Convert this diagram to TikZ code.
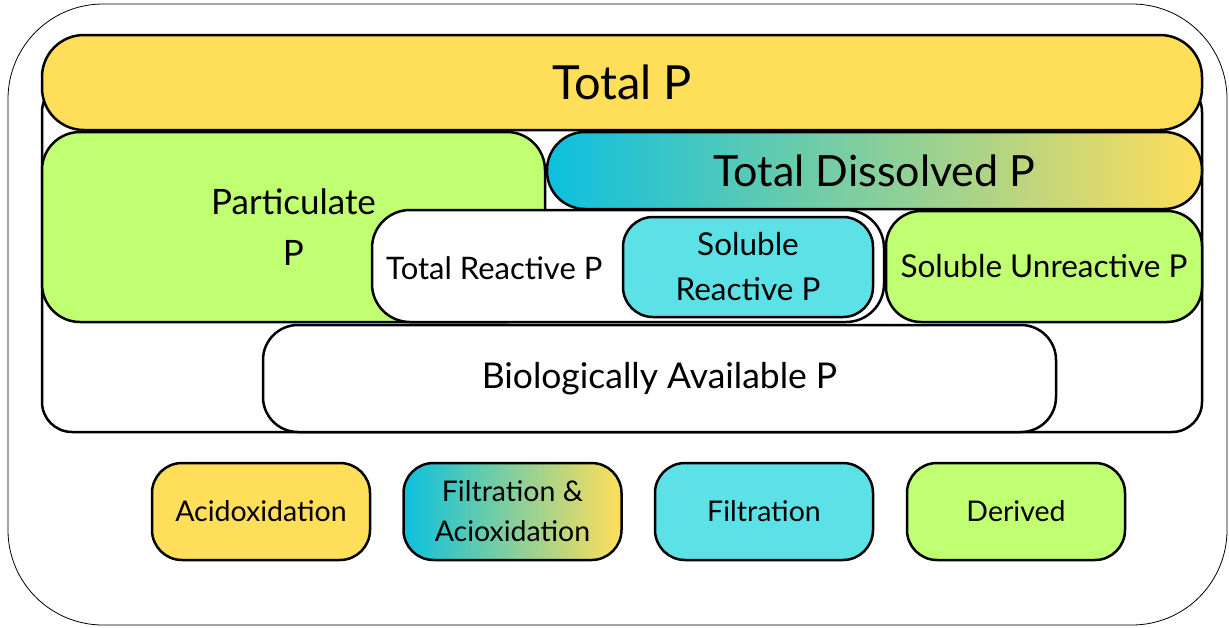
\documentclass[tikz,border=0pt]{standalone}
\usepackage{fontspec}
\setmainfont{Lato}

\definecolor{pyellow}{HTML}{FFDE59}
\definecolor{pgreen}{HTML}{C1FF72}
\definecolor{pcyan}{HTML}{5CE1E6}
\definecolor{pblue}{HTML}{0CC0DF}

\begin{document}
\begin{tikzpicture}[x=1pt, y=-1pt,
    box/.style={draw=black, line width=2.5pt, rounded corners=#1, inner sep=0pt, align=center},
    box/.default=35pt,
    mixbox/.style={box=#1, left color=pblue, right color=pyellow},
    keybox/.style={box=30pt, minimum width=218pt, minimum height=97pt, font=\fontsize{28.5}{40}\selectfont}]
    \useasboundingbox (0,0) rectangle (1229,627);

    % outer frame
    \node[draw=black, line width=0.8pt, rounded corners=95pt, minimum width=1219pt, minimum height=621pt] (frame) at (617.5,314.5) {};

    % nested fractions
    \node[box=30pt, fill=white, minimum width=1160pt, minimum height=350pt] (tp) at (622,257) {};
    \node[box=42pt, fill=pyellow, minimum width=1160pt, minimum height=95pt, font=\fontsize{47}{50}\selectfont] (tptext) at (622,82.5) {Total P};
    \node[box=38pt, fill=pgreen, minimum width=503pt, minimum height=190pt, font=\fontsize{35}{51}\selectfont] (pp) at (293.5,227) {Particulate\\P};
    \node[mixbox=38pt, minimum width=655pt, minimum height=77pt, font=\fontsize{43}{44}\selectfont] (tdp) at (874.5,170.5) {Total Dissolved P};
    \node[box, fill=pgreen, minimum width=316pt, minimum height=111pt, font=\fontsize{31.5}{40}\selectfont] (sup) at (1044,266.5) {Soluble Unreactive P};
    \node[box=38pt, fill=white, minimum width=512pt, minimum height=112pt] (trp) at (628,266) {};
    \node[anchor=west, inner sep=0pt, font=\fontsize{31}{40}\selectfont] (trptext) at (386,268) {Total Reactive P};
    \node[box=30pt, fill=pcyan, minimum width=250pt, minimum height=100pt, font=\fontsize{31.5}{45}\selectfont] (srp) at (748,267) {Soluble\\Reactive P};
    \node[box, fill=white, minimum width=793pt, minimum height=107pt, font=\fontsize{35.5}{40}\selectfont] (bap) at (659.5,378.5) {Biologically Available P};

    % legend
    \node[keybox, fill=pyellow] (acid) at (261,511.5) {Acidoxidation};
    \node[keybox, mixbox=30pt] (filtacid) at (512.5,511.5) {Filtration \&\\Acioxidation};
    \node[keybox, fill=pcyan] (filt) at (764,511.5) {Filtration};
    \node[keybox, fill=pgreen] (der) at (1016,511.5) {Derived};
\end{tikzpicture}
\end{document}
